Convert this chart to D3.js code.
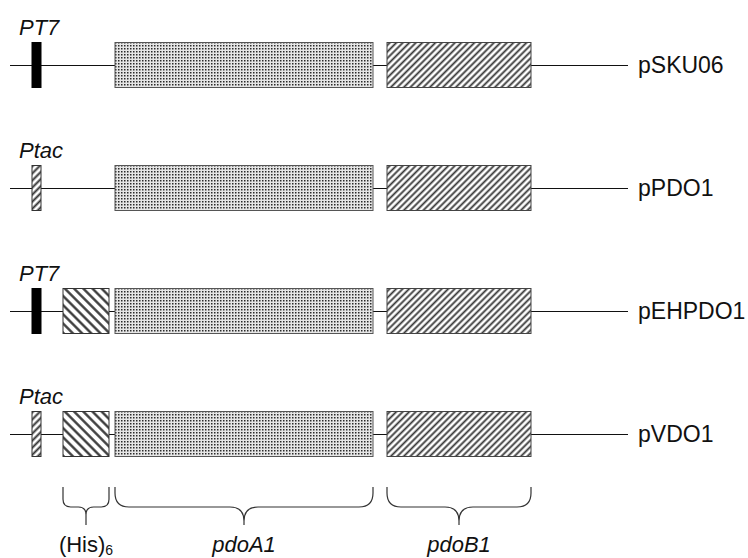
<!DOCTYPE html>
<html>
<head>
<meta charset="utf-8">
<script src="https://cdn.jsdelivr.net/npm/d3@7"></script>
<style>
  body { margin: 0; background: #fff; }
  text { font-family: "Liberation Sans", Arial, sans-serif; }
</style>
</head>
<body>
<svg id="chart" width="748" height="558"></svg>
<script>
// constructs, top to bottom
var constructs = ["pSKU06", "pPDO1", "pEHPDO1", "pVDO1"];
var promoters = ["PT7", "Ptac", "PT7", "Ptac"];
var hasHis = [false, false, true, true];

// map positions (arbitrary units along the plasmid)
var backbone = [0, 618];
var promoterPos = [22, 31];
var hisPos = [53, 99];
var pdoA1Pos = [105, 363];
var pdoB1Pos = [377, 521];

// labels under the braces
var braceLabels = ["(His)", "pdoA1", "pdoB1"];
var braceSpans = [hisPos, pdoA1Pos, pdoB1Pos];

var svg = d3.select("#chart");

var x = d3.scaleLinear().domain(backbone).range([10, 628]);
var y = d3.scalePoint().domain(constructs).range([65, 434]);
var boxH = 45;

// fill patterns
var defs = svg.append("defs");

var dots = defs.append("pattern")
    .attr("id", "dots")
    .attr("patternUnits", "userSpaceOnUse")
    .attr("width", 3).attr("height", 3);
dots.append("rect").attr("width", 3).attr("height", 3).attr("fill", "#e6e6e6");
dots.append("rect").attr("x", 1).attr("y", 1).attr("width", 1.5).attr("height", 1.5).attr("fill", "#2a2a2a");

function hatch(id, angle, gap, w) {
    var p = defs.append("pattern")
        .attr("id", id)
        .attr("patternUnits", "userSpaceOnUse")
        .attr("width", gap).attr("height", gap)
        .attr("patternTransform", "rotate(" + angle + ")");
    p.append("rect").attr("width", gap).attr("height", gap).attr("fill", "#fff");
    p.append("line")
        .attr("x1", gap / 2).attr("x2", gap / 2)
        .attr("y1", 0).attr("y2", gap)
        .attr("stroke", "#333").attr("stroke-width", w);
}
hatch("fwd", 45, 4.6, 1.8);
hatch("back", -45, 6.5, 2.3);
hatch("prom", 45, 5, 2);

var rows = svg.selectAll(".row")
    .data(constructs)
    .enter()
    .append("g")
    .attr("class", "row")
    .attr("transform", function(d) { return "translate(0," + y(d) + ")"; });

// backbone line
rows.append("line")
    .attr("x1", x(backbone[0])).attr("x2", x(backbone[1]))
    .attr("y1", 0.5).attr("y2", 0.5)
    .attr("stroke", "#111").attr("stroke-width", 1);

function box(sel, pos, fill, stroke) {
    sel.append("rect")
        .attr("x", x(pos[0]))
        .attr("y", -boxH / 2)
        .attr("width", x(pos[1]) - x(pos[0]))
        .attr("height", boxH)
        .attr("fill", fill)
        .attr("stroke", stroke)
        .attr("stroke-width", 1);
}

rows.each(function(d, i) {
    var g = d3.select(this);
    if (promoters[i] === "PT7") {
        box(g, promoterPos, "#000", "#000");
    } else {
        box(g, promoterPos, "url(#prom)", "#333");
    }
    if (hasHis[i]) box(g, hisPos, "url(#back)", "#333");
    box(g, pdoA1Pos, "url(#dots)", "#555");
    box(g, pdoB1Pos, "url(#fwd)", "#444");

    // promoter name
    g.append("text")
        .attr("x", 19)
        .attr("y", -30)
        .attr("font-size", 22)
        .attr("font-style", "italic")
        .attr("fill", "#111")
        .text(promoters[i]);

    // construct name
    g.append("text")
        .attr("x", 638)
        .attr("y", 8)
        .attr("font-size", 23)
        .attr("fill", "#111")
        .text(d);
});

// braces under the last construct
var bTop = y(constructs[constructs.length - 1]) + 53;
var bMid = bTop + 20;
var bTip = bTop + 38;

function bracePath(a, b) {
    var x0 = x(a), x1 = x(b), xm = (x0 + x1) / 2;
    var r = Math.min(14, (x1 - x0) / 6);
    return "M" + x0 + "," + bTop +
        "L" + x0 + "," + (bMid - r) +
        "Q" + x0 + "," + bMid + " " + (x0 + r) + "," + bMid +
        "L" + (xm - r) + "," + bMid +
        "Q" + xm + "," + bMid + " " + xm + "," + (bMid + r) +
        "L" + xm + "," + bTip +
        "M" + xm + "," + (bMid + r) +
        "Q" + xm + "," + bMid + " " + (xm + r) + "," + bMid +
        "L" + (x1 - r) + "," + bMid +
        "Q" + x1 + "," + bMid + " " + x1 + "," + (bMid - r) +
        "L" + x1 + "," + bTop;
}

svg.selectAll(".brace")
    .data(braceSpans)
    .enter()
    .append("path")
    .attr("class", "brace")
    .attr("d", function(d) { return bracePath(d[0], d[1]); })
    .attr("fill", "none")
    .attr("stroke", "#333")
    .attr("stroke-width", 1.2);

var lbl = svg.selectAll(".blabel")
    .data(braceLabels)
    .enter()
    .append("text")
    .attr("class", "blabel")
    .attr("x", function(d, i) { return (x(braceSpans[i][0]) + x(braceSpans[i][1])) / 2; })
    .attr("y", 552)
    .attr("text-anchor", "middle")
    .attr("font-size", 22)
    .attr("font-style", function(d, i) { return i === 0 ? "normal" : "italic"; })
    .attr("fill", "#111")
    .text(function(d) { return d; });

lbl.filter(function(d, i) { return i === 0; })
    .append("tspan")
    .attr("font-size", 14)
    .attr("dy", 3)
    .text("6");
</script>
</body>
</html>
